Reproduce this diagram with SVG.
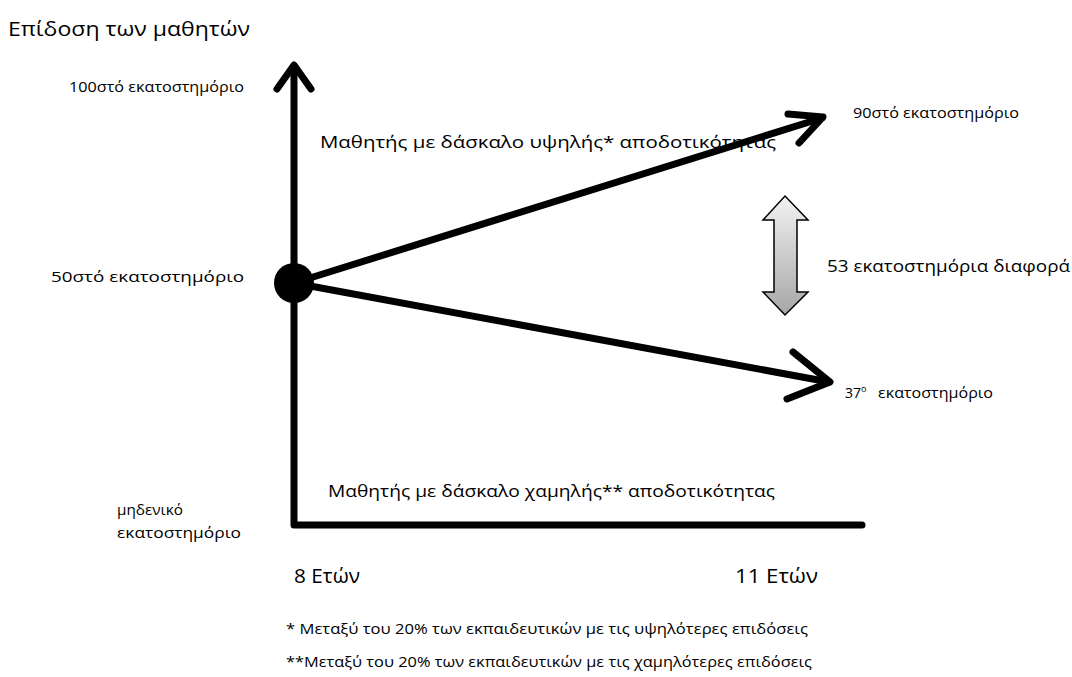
<svg xmlns="http://www.w3.org/2000/svg" width="1072" height="677" viewBox="0 0 1072 677">
<style>
text{font-family:"Open Sans","Noto Sans","DejaVu Sans",sans-serif;fill:#000}
.s13{font-size:14px}.s16{font-size:17px}.s18{font-size:19.5px}
.ln{stroke:#000;stroke-width:7;fill:none;stroke-linecap:round;stroke-linejoin:round}
</style>
<defs>
<linearGradient id="g" x1="0" y1="0" x2="0" y2="1"><stop offset="0" stop-color="#f2f2f2"/><stop offset="1" stop-color="#a6a6a6"/></linearGradient>
</defs>
<rect width="1072" height="677" fill="#fff"/>
<text class="s18" x="8" y="36" textLength="242" lengthAdjust="spacingAndGlyphs">Επίδοση των μαθητών</text>
<g id="axes">
<path class="ln" d="M294,66 V525 H862" stroke-linecap="butt" stroke-linejoin="miter"/>
<path class="ln" d="M277,89 L294,65 L311,89"/>
</g>
<g id="connectors">
<path class="ln" d="M294,283 L822,118"/>
<path class="ln" d="M788,114 L823,117 L799,143"/>
<path class="ln" d="M294,283 L829,382"/>
<path class="ln" d="M793,352 L830,382 L787,399"/>
</g>
<g id="origin"><circle cx="294" cy="283" r="20" fill="#000"/></g>
<g id="diff">
<path d="M785,196 L808,220 L797,220 L797,292 L808,292 L785,315 L763,292 L774,292 L774,220 L763,220 Z" fill="url(#g)" stroke="#000" stroke-width="1.5" stroke-linejoin="miter"/>
<text class="s16" x="827" y="272" textLength="243" lengthAdjust="spacingAndGlyphs">53 εκατοστημόρια διαφορά</text>
</g>
<g id="labels">
<text class="s13" x="69" y="92" textLength="175" lengthAdjust="spacingAndGlyphs">100στό εκατοστημόριο</text>
<text class="s13" x="51" y="282" textLength="193" lengthAdjust="spacingAndGlyphs">50στό εκατοστημόριο</text>
<text class="s13" x="117" y="515" textLength="66" lengthAdjust="spacingAndGlyphs">μηδενικό</text>
<text class="s13" x="117" y="538" textLength="124" lengthAdjust="spacingAndGlyphs">εκατοστημόριο</text>
<text class="s13" x="853" y="118" textLength="166" lengthAdjust="spacingAndGlyphs">90στό εκατοστημόριο</text>
<text class="s13" x="845" y="398">37<tspan dy="-6" font-size="9">ο</tspan><tspan dy="6" x="878" textLength="115" lengthAdjust="spacingAndGlyphs">εκατοστημόριο</tspan></text>
<text class="s16" x="320" y="148" textLength="456" lengthAdjust="spacingAndGlyphs">Μαθητής με δάσκαλο υψηλής*  αποδοτικότητας</text>
<text class="s16" x="328" y="497" textLength="447" lengthAdjust="spacingAndGlyphs">Μαθητής με δάσκαλο χαμηλής**  αποδοτικότητας</text>
<text class="s18" x="294" y="583" textLength="66" lengthAdjust="spacingAndGlyphs">8 Ετών</text>
<text class="s18" x="735" y="583" textLength="83" lengthAdjust="spacingAndGlyphs">11 Ετών</text>
<text class="s13" x="286" y="634" textLength="522" lengthAdjust="spacingAndGlyphs">* Μεταξύ του 20% των εκπαιδευτικών με τις υψηλότερες επιδόσεις</text>
<text class="s13" x="286" y="667" textLength="526" lengthAdjust="spacingAndGlyphs">**Μεταξύ του 20% των εκπαιδευτικών με τις χαμηλότερες επιδόσεις</text>
</g>
</svg>
